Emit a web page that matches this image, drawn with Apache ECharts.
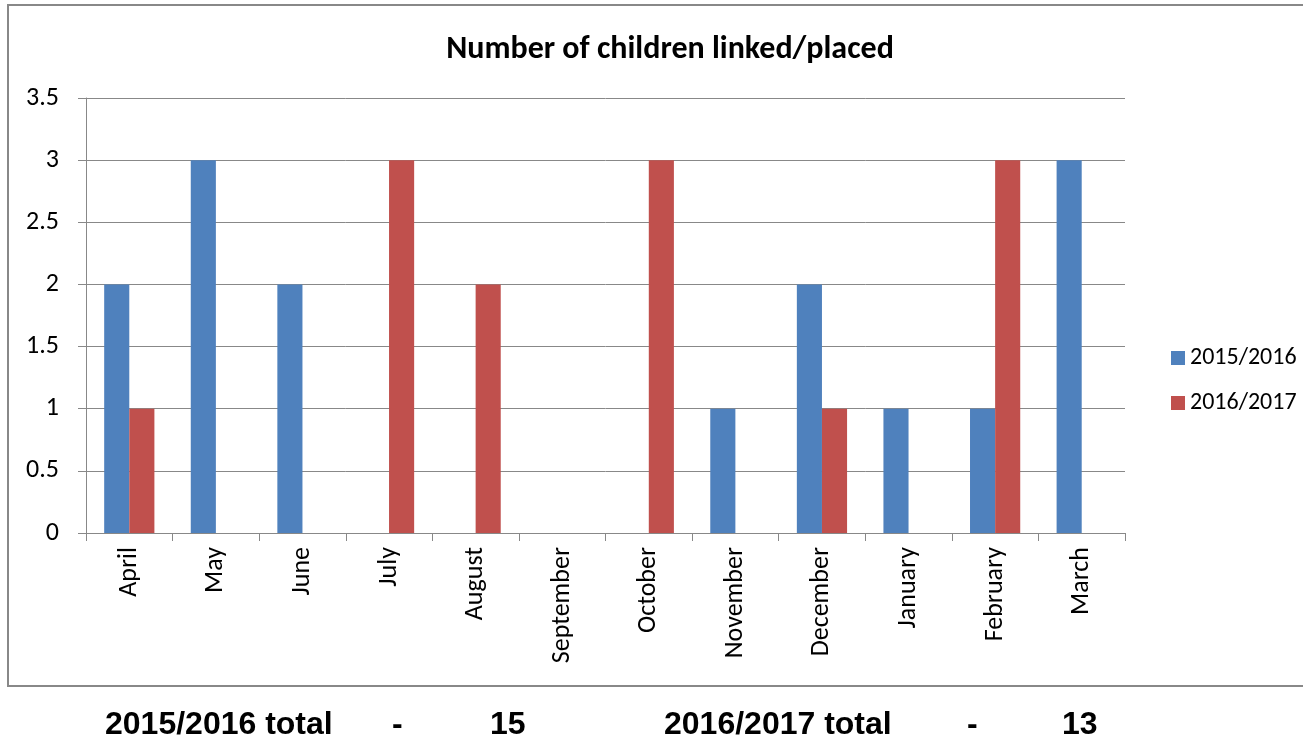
<!DOCTYPE html>
<html><head><meta charset="utf-8">
<script src="https://cdn.jsdelivr.net/npm/echarts@6/dist/echarts.min.js"></script>
<style>html,body{margin:0;padding:0;background:#fff;}#c{width:1303px;height:746px;}</style>
</head><body><div id="c"></div>
<script>
const categories = ['April','May','June','July','August','September','October','November','December','January','February','March'];
const series2015 = [2,3,2,0,0,0,0,1,2,1,1,3];
const series2016 = [1,0,0,3,2,0,3,0,1,0,3,0];
const yTicks = [0,0.5,1,1.5,2,2.5,3,3.5];
const seriesNames = ['2015/2016','2016/2017'];
const footer = [['2015/2016 total',105],['-',392],['15',490],['2016/2017 total',664],['-',967],['13',1062]];

const chart = echarts.init(document.getElementById('c'));
const font = 'Carlito, "Open Sans", "Liberation Sans", sans-serif';
chart.setOption({
  animation:false,
  title:{text:'Number of children linked/placed',left:665,textAlign:'center',top:29,
    textStyle:{fontFamily:font,fontSize:32,fontWeight:'bold',color:'#000'}},
  legend:{orient:'vertical',left:1166,top:341,itemWidth:14,itemHeight:14,itemGap:21,icon:'rect',
    textStyle:{fontFamily:font,fontSize:24,color:'#000',padding:[0,0,0,0]},data:seriesNames},
  grid:{left:86,right:178,top:98,bottom:213},
  xAxis:{type:'category',data:categories,
    axisLine:{lineStyle:{color:'#888',width:1}},
    axisTick:{show:true,length:8,lineStyle:{color:'#888'}},
    axisLabel:{rotate:90,fontFamily:font,fontSize:26,color:'#000',margin:14}},
  yAxis:{type:'value',min:0,max:3.5,interval:0.5,
    axisLine:{show:true,lineStyle:{color:'#888'}},
    axisTick:{show:true,length:8,lineStyle:{color:'#888'}},
    splitLine:{lineStyle:{color:'#888'}},
    axisLabel:{fontFamily:font,fontSize:26,color:'#000',margin:27,
      formatter:v=>yTicks.includes(v)?String(v):''}},
  series:[
    {name:seriesNames[0],type:'bar',data:series2015,barGap:'0%',barCategoryGap:'42%',itemStyle:{color:'#4F81BD'}},
    {name:seriesNames[1],type:'bar',data:series2016,barGap:'0%',barCategoryGap:'42%',itemStyle:{color:'#C0504D'}}
  ],
  graphic:[
    {type:'rect',shape:{x:8,y:5,width:1300,height:681},style:{fill:'none',stroke:'#888',lineWidth:2},silent:true},
    ...footer.map(([t,x])=>({type:'text',x:x,y:725,style:{text:t,verticalAlign:'middle',fontFamily:'"Liberation Sans",Arial,sans-serif',fontSize:32,fontWeight:'bold',fill:'#000'}}))
  ]
});
</script></body></html>
